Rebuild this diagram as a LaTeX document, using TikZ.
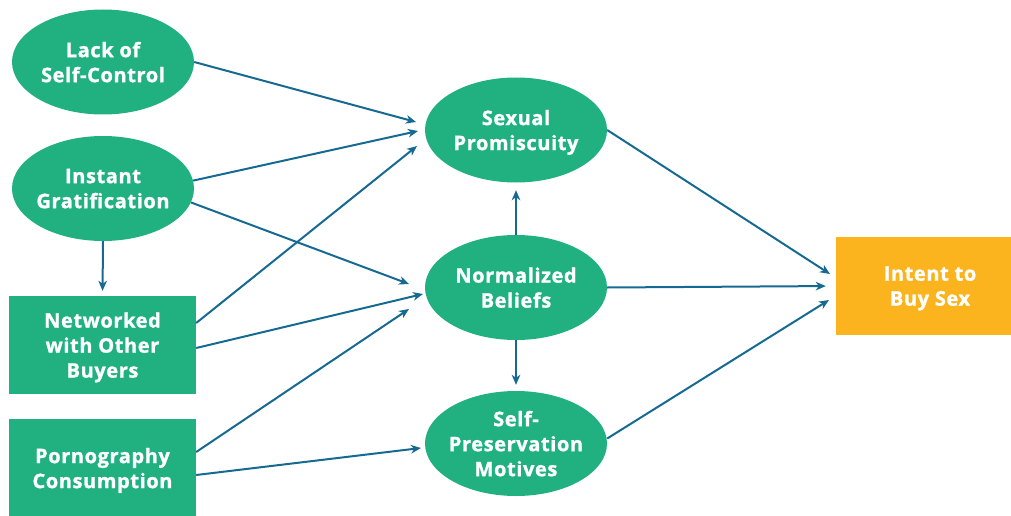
\documentclass[tikz,border=0pt]{standalone}
\usepackage{fontspec}
\setmainfont{Open Sans}[BoldFont={Open Sans Bold}, BoldFeatures={FakeBold=1.2, LetterSpace=3}]
\usetikzlibrary{shapes.geometric,arrows.meta}
\definecolor{grn}{RGB}{33,177,128}
\definecolor{org}{RGB}{251,180,30}
\definecolor{arr}{RGB}{22,106,146}
\begin{document}
\begin{tikzpicture}[x=1pt,y=-1pt,
  every node/.style={font=\bfseries\fontsize{20}{25}\selectfont, text=white, align=center, text depth=-4pt},
  oval/.style={ellipse, fill=grn, minimum width=182pt, minimum height=105pt, inner ysep=0pt, inner xsep=-20pt},
  box/.style={rectangle, fill=grn, minimum width=187pt, minimum height=98pt, inner sep=0pt},
  goal/.style={rectangle, fill=org, minimum width=188pt, minimum height=98pt, inner sep=0pt},
  link/.style={draw=arr, line width=2pt, -{Stealth[length=10pt,width=8.5pt,inset=3pt]}}]
\useasboundingbox (0,0) rectangle (1011,516);
\node[oval] (lsc) at (103,62) {Lack of\\Self-Control};
\node[oval] (ig) at (103,188.5) {Instant\\Gratification};
\node[box] (nw) at (102.5,345) {Networked\\with Other\\Buyers};
\node[box] (pc) at (102.5,468) {Pornography\\Consumption};
\node[oval] (sp) at (516,130) {Sexual\\Promiscuity};
\node[oval] (nb) at (516,287.5) {Normalized\\Beliefs};
\node[oval] (spm) at (516,443.5) {Self-\\Preservation\\Motives};
\node[goal] (ibs) at (930,286) {Intent to\\Buy Sex};
\coordinate (t1) at (416,122);
\coordinate (t2) at (418,131);
\coordinate (t3) at (417,146);
\coordinate (t4) at (409,284);
\coordinate (t5) at (423,294);
\coordinate (t6) at (409,309);
\coordinate (t7) at (421,448);
\coordinate (t8) at (830,274);
\coordinate (t9) at (829,300);
\draw[link] (lsc.east) -- (t1);
\draw[link] (ig.5) -- (t2);
\draw[link] ([yshift=22pt]nw.east) -- (t3);
\draw[link] (ig.-9) -- (t4);
\draw[link] ([yshift=-3pt]nw.east) -- (t5);
\draw[link] ([yshift=16pt]pc.east) -- (t6);
\draw[link] ([yshift=-7pt]pc.east) -- (t7);
\draw[link, shorten >=5pt] (ig.south) -- (nw.north);
\draw[link, shorten >=7.5pt] (nb.north) -- (sp.south);
\draw[link, shorten >=6pt] (nb.south) -- (spm.north);
\draw[link, shorten >=10pt] (nb.east) -- (ibs.west);
\draw[link] (sp.east) -- (t8);
\draw[link] ([yshift=5pt]spm.east) -- (t9);
\end{tikzpicture}
\end{document}
